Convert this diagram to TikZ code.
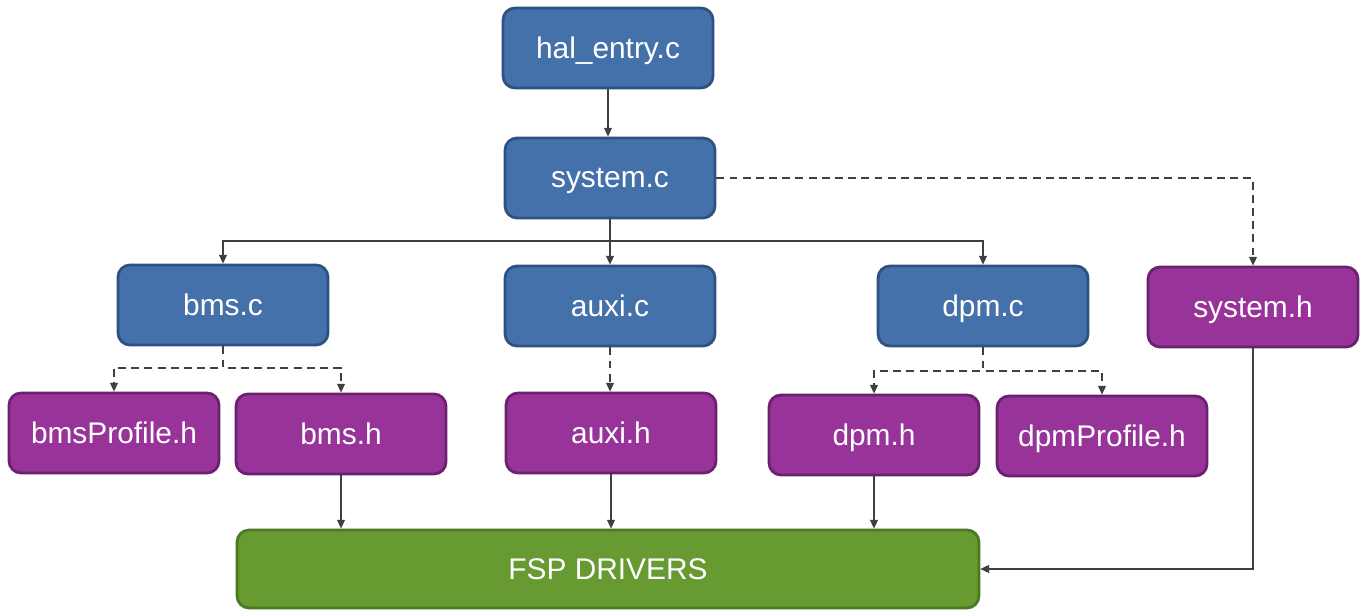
\documentclass[tikz,border=0pt]{standalone}
\usepackage{fontspec}
\setmainfont{Liberation Sans}
\usetikzlibrary{arrows.meta}
\definecolor{cfill}{HTML}{4571AA}
\definecolor{cline}{HTML}{2D5282}
\definecolor{hfill}{HTML}{983399}
\definecolor{hline}{HTML}{6A2270}
\definecolor{dfill}{HTML}{679A31}
\definecolor{dline}{HTML}{4B7A22}
\definecolor{wire}{HTML}{404040}

\tikzset{
  box/.style={rounded corners=0.24cm, line width=1.6pt, text=white,
    minimum width=4.2cm, minimum height=1.6cm, text depth=0pt,
    font=\fontsize{17}{20}\selectfont},
  cfile/.style={box, draw=cline, fill=cfill},
  hfile/.style={box, draw=hline, fill=hfill},
  drv/.style={box, draw=dline, fill=dfill, minimum width=14.84cm, minimum height=1.56cm},
  link/.style={draw=wire, line width=0.7pt, -{Triangle[length=5pt,width=4.5pt]}},
  dlink/.style={link, dash pattern=on 4.5pt off 3pt}
}

\begin{document}
\begin{tikzpicture}[x=0.02cm, y=-0.02cm]
        \useasboundingbox (0,0) rectangle (1361,611);

        \node[cfile] (hal) at (608,48) {hal\_entry.c};
        \node[cfile] (sys) at (610,178) {system.c};
        \node[cfile] (bms) at (223,305) {bms.c};
        \node[cfile] (auxi) at (610,306) {auxi.c};
        \node[cfile] (dpm) at (983,306) {dpm.c};
        \node[hfile] (sysh) at (1253,307) {system.h};

        \node[hfile] (bmsp) at (114,433) {bmsProfile.h};
        \node[hfile] (bmsh) at (341,434) {bms.h};
        \node[hfile] (auxih) at (611,433) {auxi.h};
        \node[hfile] (dpmh) at (874,435) {dpm.h};
        \node[hfile] (dpmp) at (1102,436) {dpmProfile.h};

        \node[drv] (fsp) at (608,569) {FSP DRIVERS};

        \coordinate (bar) at (610,241);
        \coordinate (bmsbar) at (223,368);
        \coordinate (dpmbar) at (983,371);

        \draw[link] (hal.south) -- (hal.south |- sys.north);
        \draw[link] (sys) -- (auxi);
        \draw[link] (sys.south) -- (bar) -| (bms.north);
        \draw[link] (sys.south) -- (bar) -| (dpm.north);
        \draw[dlink] (sys.east) -| (sysh.north);

        \draw[dlink] (bms.south) -- (bmsbar) -| (bmsp.north);
        \draw[dlink] (bms.south) -- (bmsbar) -| (bmsh.north);
        \draw[dlink] (auxi.south) -- (auxi.south |- auxih.north);
        \draw[dlink] (dpm.south) -- (dpmbar) -| (dpmh.north);
        \draw[dlink] (dpm.south) -- (dpmbar) -| (dpmp.north);

        \draw[link] (bmsh.south) -- (bmsh.south |- fsp.north);
        \draw[link] (auxih.south) -- (auxih.south |- fsp.north);
        \draw[link] (dpmh.south) -- (dpmh.south |- fsp.north);
        \draw[link] (sysh.south) |- (fsp.east);

\end{tikzpicture}
\end{document}
